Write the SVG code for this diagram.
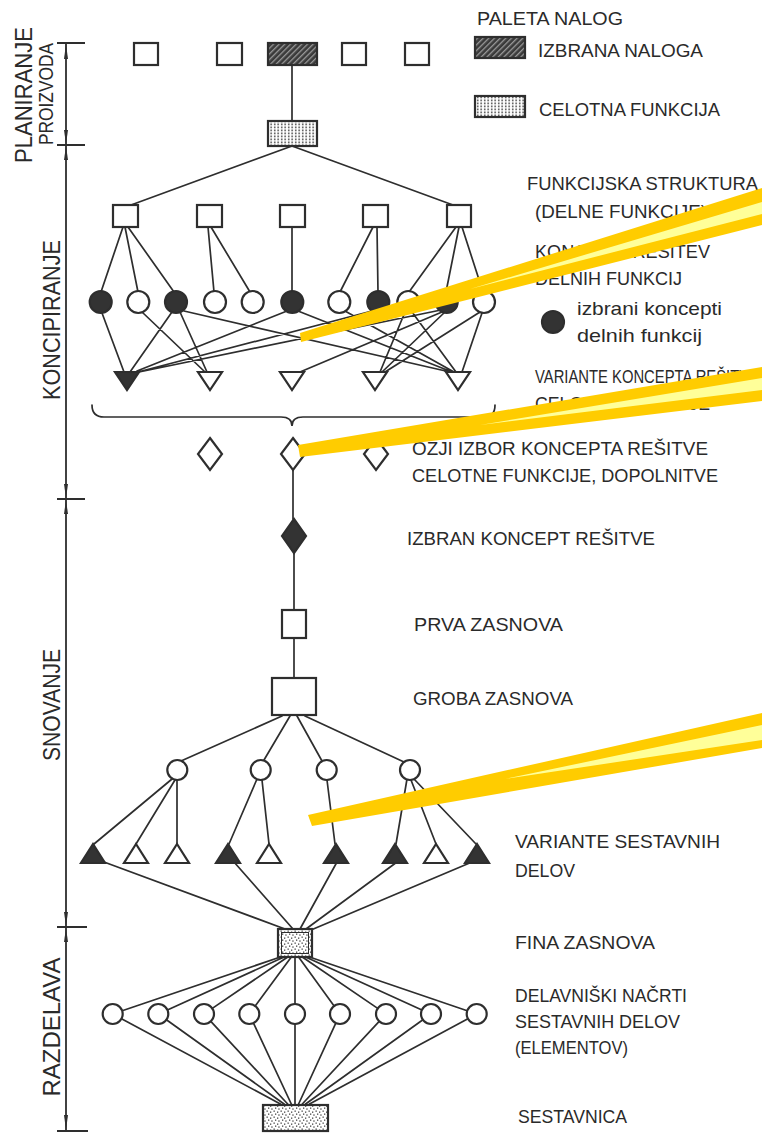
<svg xmlns="http://www.w3.org/2000/svg" width="762" height="1133" viewBox="0 0 762 1133">
<style>
.bg{fill:#ffffff}
.ln{stroke:#2e2e2e;stroke-width:1.7;fill:none;stroke-linecap:round}
.nd{stroke:#2e2e2e;stroke-width:2.2;fill:#ffffff}
.fl{stroke:#2e2e2e;stroke-width:2.2;fill:#333333}
.tx{font-family:"Liberation Sans",Arial,sans-serif;font-size:19px;fill:#2a2a2a}
.lt{font-family:"Liberation Sans",Arial,sans-serif;font-size:23px;fill:#2a2a2a}
.ax{stroke:#2e2e2e;stroke-width:1.8;fill:none}
.ar{fill:#2e2e2e}
.b1{fill:#ffcc00}
.b2{fill:#ffff99}
</style>
<defs>
<pattern id="hatch" width="4" height="4" patternUnits="userSpaceOnUse" patternTransform="rotate(45)">
<rect width="4" height="4" fill="#3a3a3a"/><rect width="1.3" height="4" fill="#9a9a9a"/>
</pattern>
<pattern id="grid" width="3.5" height="3" patternUnits="userSpaceOnUse">
<rect width="3.5" height="3" fill="#ffffff"/><rect x="1" y="0.5" width="1.4" height="1.8" fill="#444444"/>
</pattern>
<pattern id="stip" width="7" height="6" patternUnits="userSpaceOnUse">
<rect width="7" height="6" fill="#ffffff"/>
<rect x="0.5" y="0.5" width="1.3" height="1.3" fill="#444"/><rect x="4" y="1.5" width="1.3" height="1.3" fill="#444"/>
<rect x="2" y="3.5" width="1.3" height="1.3" fill="#444"/><rect x="5.3" y="4.4" width="1.3" height="1.3" fill="#444"/>
</pattern>
</defs>
<rect class="bg" x="0" y="0" width="762" height="1133"/>

<g id="axis">
<path class="ax" d="M66,43 V1131 M57,43 H85 M57,145 H85 M57,499 H85 M57,927 H87 M57,1131 H88"/>
<polygon class="ar" points="66,44 64,59 68,59"/>
<polygon class="ar" points="66,144 64,130 68,130"/>
<polygon class="ar" points="66,146 64,160 68,160"/>
<polygon class="ar" points="66,498 64,484 68,484"/>
<polygon class="ar" points="66,500 64,514 68,514"/>
<polygon class="ar" points="66,926 64,912 68,912"/>
<polygon class="ar" points="66,928 64,942 68,942"/>
<polygon class="ar" points="66,1130 64,1115 68,1115"/>
<text class="lt" transform="translate(32,95) rotate(-90)" text-anchor="middle" textLength="136" lengthAdjust="spacingAndGlyphs">PLANIRANJE</text>
<text class="lt" style="font-size:21px" transform="translate(53,94) rotate(-90)" text-anchor="middle" textLength="102" lengthAdjust="spacingAndGlyphs">PROIZVODA</text>
<text class="lt" transform="translate(60,320) rotate(-90)" text-anchor="middle" textLength="160" lengthAdjust="spacingAndGlyphs">KONCIPIRANJE</text>
<text class="lt" transform="translate(60,705) rotate(-90)" text-anchor="middle" textLength="112" lengthAdjust="spacingAndGlyphs">SNOVANJE</text>
<text class="lt" transform="translate(60,1027) rotate(-90)" text-anchor="middle" textLength="139" lengthAdjust="spacingAndGlyphs">RAZDELAVA</text>
</g>

<g id="connectors">
<path class="ln" d="M292,65 V121 M292,146 L131,205 M292,146 L453,205"/>
<path class="ln" d="M123,227 L101,292 M125,227 L138,292 M128,227 L174,292 M208,227 L214,292 M211,227 L250,292 M292,227 L292,292 M373,227 L340,292 M377,227 L378,292 M456,227 L409,292 M459,227 L446,292 M462,227 L483,292"/>
<path class="ln" d="M102,313 L124,372 M172,312 L130,372 M287,311 L137,371 M372,311 L138,372 M441,310 L139,372 M142,312 L205,372 M180,312 L207,372 M442,312 L300,372 M405,312 L380,372 M445,312 L382,372 M480,312 L385,372 M184,311 L450,372 M298,311 L452,372 M345,311 L454,372 M412,312 L456,372 M482,313 L462,372"/>
<path class="ln" d="M92,405 Q92,417 104,417 L281,417 Q292,417 292,426 Q292,417 303,417 L484,417 Q495,417 495,405"/>
<path class="ln" d="M293,470 V519 M294,553 V610 M294,638 V678"/>
<path class="ln" d="M282,716 L181,761 M290,716 L264,760 M297,716 L322,761 M305,716 L404,762"/>
<path class="ln" d="M172,779 L94,844 M175,780 L136,844 M177,780 L177,844 M257,779 L229,844 M262,780 L269,844 M327,780 L335,844 M407,779 L396,844 M411,780 L436,844 M414,779 L476,844"/>
<path class="ln" d="M104,862 L285,929 M234,862 L293,929 M337,862 L300,929 M397,862 L306,929 M472,862 L311,930"/>
<path class="ln" d="M280.4,957 L122.2,1010.8 M284.1,957 L167.4,1009.9 M287.7,957 L212.3,1008.4 M291.3,957 L255.2,1005.9 M295,957 L295,1004 M298.6,957 L334.1,1005.9 M302.3,957 L377.7,1008.4 M305.6,957 L421.9,1009.9 M309.5,957 L467.2,1010.8"/>
<path class="ln" d="M121.5,1018.7 L280.4,1104 M166.4,1019.8 L284.1,1104 M210.8,1021.3 L287.7,1104 M253.5,1023.1 L291.3,1104 M295,1024 L295,1104 M335.8,1023.1 L298.6,1104 M379.2,1021.3 L302.3,1104 M422.9,1019.8 L305.6,1104 M467.9,1018.7 L309.5,1104"/>
</g>

<g id="paleta">
<rect class="nd" x="134" y="43" width="24" height="22"/>
<rect class="nd" x="217" y="43" width="25" height="22"/>
<rect class="nd" x="342" y="43" width="24" height="22"/>
<rect class="nd" x="405" y="43" width="24" height="22"/>
</g>
<g id="izbrana-naloga"><rect class="nd" x="268" y="43" width="49" height="22" style="fill:url(#hatch)"/></g>
<g id="celotna-funkcija"><rect class="nd" x="268" y="121" width="49" height="25" style="fill:url(#grid)"/></g>

<g id="legend">
<rect class="nd" x="475" y="37" width="50" height="21" style="fill:url(#hatch)"/>
<rect class="nd" x="475" y="96" width="50" height="21" style="fill:url(#grid)"/>
<circle class="fl" cx="553" cy="322" r="11"/>
</g>

<g id="delne-funkcije">
<rect class="nd" x="113" y="205" width="25" height="22"/>
<rect class="nd" x="197" y="205" width="25" height="22"/>
<rect class="nd" x="280" y="205" width="25" height="22"/>
<rect class="nd" x="363" y="205" width="25" height="22"/>
<rect class="nd" x="447" y="205" width="24" height="22"/>
</g>

<g id="koncepti">
<circle class="fl" cx="100.7" cy="302" r="11"/>
<circle class="nd" cx="138.3" cy="302" r="11"/>
<circle class="fl" cx="176" cy="302" r="11"/>
<circle class="nd" cx="215" cy="302" r="11"/>
<circle class="nd" cx="252.7" cy="302" r="11"/>
<circle class="fl" cx="292.3" cy="302" r="11"/>
<circle class="nd" cx="339.3" cy="302" r="11"/>
<circle class="fl" cx="378.3" cy="302" r="11"/>
<circle class="nd" cx="408.3" cy="302" r="11"/>
<circle class="fl" cx="446.7" cy="302" r="11"/>
<circle class="nd" cx="484" cy="302" r="11"/>
</g>

<g id="variante-koncepta">
<polygon class="fl" points="115,372 139,372 127,390"/>
<polygon class="nd" points="198,372 222,372 210,390"/>
<polygon class="nd" points="280,372 304,372 292,390"/>
<polygon class="nd" points="363,372 387,372 375,390"/>
<polygon class="nd" points="446,372 470,372 458,390"/>
</g>

<g id="ozji-izbor">
<polygon class="nd" points="210,438 222,454 210,470 198,454"/>
<polygon class="nd" points="293,438 305,454 293,470 281,454"/>
<polygon class="nd" points="376,438 388,454 376,470 364,454"/>
</g>
<g id="izbran-koncept"><polygon class="fl" points="294,519 306,536 294,553 282,536"/></g>
<g id="prva-zasnova"><rect class="nd" x="282" y="610" width="24" height="28"/></g>
<g id="groba-zasnova"><rect class="nd" x="272" y="678" width="44" height="37"/></g>

<g id="sestavni-deli">
<circle class="nd" cx="177.3" cy="770" r="10"/>
<circle class="nd" cx="260.7" cy="770" r="10"/>
<circle class="nd" cx="326.7" cy="770" r="10"/>
<circle class="nd" cx="410" cy="770" r="10"/>
</g>

<g id="variante-sestavnih">
<polygon class="fl" points="93,844 81,863 105,863"/>
<polygon class="nd" points="136,844 124,863 148,863"/>
<polygon class="nd" points="177,844 165,863 189,863"/>
<polygon class="fl" points="228,844 216,863 240,863"/>
<polygon class="nd" points="269,844 257,863 281,863"/>
<polygon class="fl" points="336,844 324,863 348,863"/>
<polygon class="fl" points="395,844 383,863 407,863"/>
<polygon class="nd" points="436,844 424,863 448,863"/>
<polygon class="fl" points="477,844 465,863 489,863"/>
</g>

<g id="fina-zasnova">
<rect class="nd" x="278" y="929" width="34" height="28" style="fill:url(#stip)"/>
<rect x="281.5" y="932.5" width="27" height="21" fill="none" stroke="#2e2e2e" stroke-width="1"/>
</g>

<g id="delavniski-nacrti">
<circle class="nd" cx="112.7" cy="1014" r="10"/>
<circle class="nd" cx="158.3" cy="1014" r="10"/>
<circle class="nd" cx="204" cy="1014" r="10"/>
<circle class="nd" cx="249.3" cy="1014" r="10"/>
<circle class="nd" cx="295" cy="1014" r="10"/>
<circle class="nd" cx="340" cy="1014" r="10"/>
<circle class="nd" cx="386" cy="1014" r="10"/>
<circle class="nd" cx="431" cy="1014" r="10"/>
<circle class="nd" cx="476.7" cy="1014" r="10"/>
</g>

<g id="sestavnica"><rect class="nd" x="263" y="1105" width="65" height="26" style="fill:url(#stip)"/></g>

<g id="labels">
<text class="tx" x="477" y="25" textLength="146" lengthAdjust="spacingAndGlyphs">PALETA NALOG</text>
<text class="tx" x="538" y="57" textLength="165" lengthAdjust="spacingAndGlyphs">IZBRANA NALOGA</text>
<text class="tx" x="539" y="116" textLength="181" lengthAdjust="spacingAndGlyphs">CELOTNA FUNKCIJA</text>
<text class="tx" x="527" y="190" textLength="231" lengthAdjust="spacingAndGlyphs">FUNKCIJSKA STRUKTURA</text>
<text class="tx" x="535" y="218" textLength="172" lengthAdjust="spacingAndGlyphs">(DELNE FUNKCIJE)</text>
<text class="tx" x="535" y="258" textLength="175" lengthAdjust="spacingAndGlyphs">KONCEPTI REŠITEV</text>
<text class="tx" x="535" y="285" textLength="147" lengthAdjust="spacingAndGlyphs">DELNIH FUNKCIJ</text>
<text class="tx" x="577" y="315" textLength="145" lengthAdjust="spacingAndGlyphs">izbrani koncepti</text>
<text class="tx" x="577" y="342" textLength="125" lengthAdjust="spacingAndGlyphs">delnih funkcij</text>
<text class="tx" x="535" y="383" textLength="224" lengthAdjust="spacingAndGlyphs">VARIANTE KONCEPTA REŠITVE</text>
<text class="tx" x="535" y="410" textLength="175" lengthAdjust="spacingAndGlyphs">CELOTNE FUNKCIJE</text>
<text class="tx" x="412" y="455" textLength="296" lengthAdjust="spacingAndGlyphs">OZJI IZBOR KONCEPTA REŠITVE</text>
<text class="tx" x="412" y="482" textLength="306" lengthAdjust="spacingAndGlyphs">CELOTNE FUNKCIJE, DOPOLNITVE</text>
<text class="tx" x="407" y="545" textLength="248" lengthAdjust="spacingAndGlyphs">IZBRAN KONCEPT REŠITVE</text>
<text class="tx" x="414" y="631" textLength="149" lengthAdjust="spacingAndGlyphs">PRVA ZASNOVA</text>
<text class="tx" x="413" y="705" textLength="160" lengthAdjust="spacingAndGlyphs">GROBA ZASNOVA</text>
<text class="tx" x="515" y="848" textLength="205" lengthAdjust="spacingAndGlyphs">VARIANTE SESTAVNIH</text>
<text class="tx" x="515" y="877" textLength="60" lengthAdjust="spacingAndGlyphs">DELOV</text>
<text class="tx" x="515" y="949" textLength="140" lengthAdjust="spacingAndGlyphs">FINA ZASNOVA</text>
<text class="tx" x="515" y="1002" textLength="172" lengthAdjust="spacingAndGlyphs">DELAVNIŠKI NAČRTI</text>
<text class="tx" x="515" y="1028" textLength="165" lengthAdjust="spacingAndGlyphs">SESTAVNIH DELOV</text>
<text class="tx" x="515" y="1054" textLength="113" lengthAdjust="spacingAndGlyphs">(ELEMENTOV)</text>
<text class="tx" x="518" y="1123" textLength="109" lengthAdjust="spacingAndGlyphs">SESTAVNICA</text>
</g>

<g id="beams">
<polygon class="b1" points="300,333 762,188 762,225 301,342"/>
<polygon class="b2" points="470,289 762,202 762,214"/>
<polygon class="b1" points="298,445 762,367 762,401 300,457"/>
<polygon class="b2" points="480,425 762,378 762,390"/>
<polygon class="b1" points="308,815 762,713 762,748 312,826"/>
<polygon class="b2" points="505,779 762,725 762,740"/>
</g>
</svg>
